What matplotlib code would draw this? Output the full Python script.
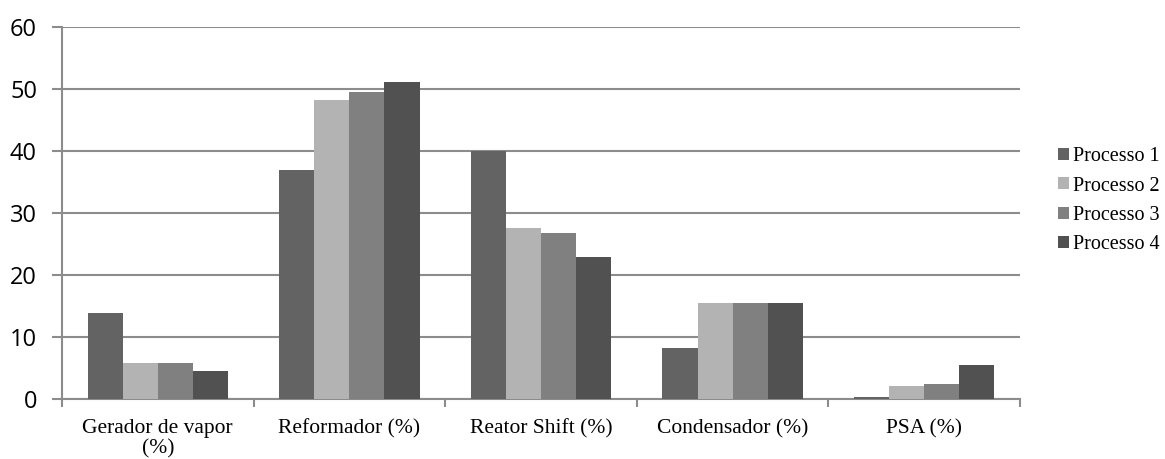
import numpy as np
import matplotlib.pyplot as plt

categories = ["Gerador de vapor\n(%)", "Reformador (%)", "Reator Shift (%)",
              "Condensador (%)", "PSA (%)"]
series_names = ["Processo 1", "Processo 2", "Processo 3", "Processo 4"]
processo1 = [14.0, 37.0, 40.0, 8.3, 0.4]
processo2 = [5.8, 48.2, 27.6, 15.5, 2.2]
processo3 = [5.8, 49.6, 26.9, 15.5, 2.5]
processo4 = [4.6, 51.1, 23.0, 15.6, 5.5]
colors = ["#636363", "#b3b3b3", "#808080", "#515151"]

fig = plt.figure(figsize=(11.65, 4.59), dpi=100)
ax = fig.add_axes([62 / 1165, 1 - 399.3 / 459, 958 / 1165, 372 / 459])

x = np.arange(len(categories))
width = 0.183
for i, vals in enumerate([processo1, processo2, processo3, processo4]):
    ax.bar(x + (i - 1.5) * width, vals, width, color=colors[i],
           label=series_names[i], zorder=3)

ax.set_xlim(-0.5, len(categories) - 0.5)
ax.set_ylim(0, 60)
ax.set_yticks(range(0, 61, 10))
ax.yaxis.grid(True, color="#8c8c8c", linewidth=1.5, zorder=0)
for s in ["top", "right"]:
    ax.spines[s].set_visible(False)
for s in ["left", "bottom"]:
    ax.spines[s].set_color("#8c8c8c")
    ax.spines[s].set_linewidth(1.5)

ax.set_xticks(np.arange(-0.5, len(categories), 1.0))
ax.set_xticklabels([])
ax.set_xticks(x, minor=True)
ax.set_xticklabels(categories, minor=True, fontsize=15.5,
                   family="Liberation Serif", linespacing=1.1)
ax.tick_params(axis="x", which="major", length=6, width=1.5, color="#8c8c8c",
               direction="out")
ax.tick_params(axis="x", which="minor", length=0, pad=14)
ax.tick_params(axis="y", length=7, width=1.5, color="#8c8c8c", pad=11)
for lbl in ax.get_yticklabels():
    lbl.set_family("Open Sans")
    lbl.set_fontsize(17)

leg = fig.legend(loc="upper left", bbox_to_anchor=(1050 / 1165, 1 - 139 / 459),
                 frameon=False, prop={"family": "Liberation Serif", "size": 14.5},
                 handlelength=0.55, handleheight=0.55, handletextpad=0.2,
                 labelspacing=0.52, borderaxespad=0)

fig.savefig("out.png", dpi=100)
